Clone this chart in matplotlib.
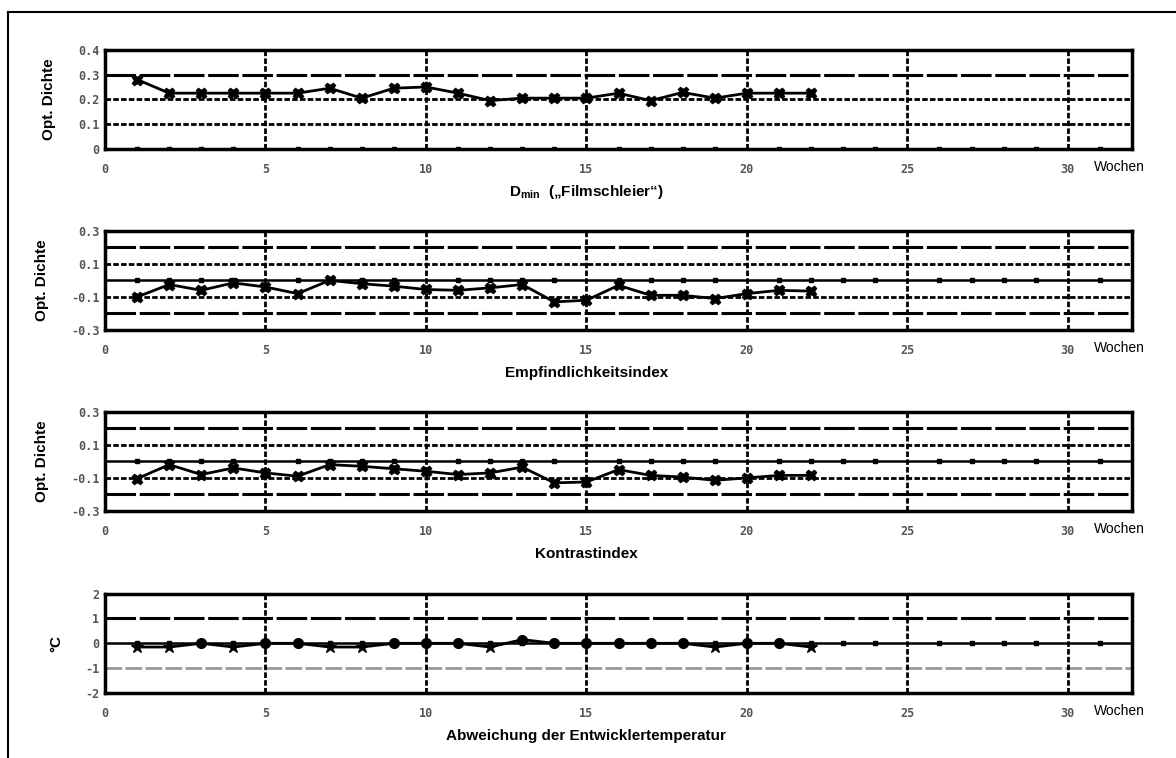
import matplotlib
matplotlib.use('Agg')
import matplotlib.pyplot as plt
from matplotlib.lines import Line2D

plt.rcParams['font.family'] = ['Liberation Sans', 'DejaVu Sans']
plt.rcParams['mathtext.fontset'] = 'custom'
plt.rcParams['mathtext.rm'] = 'Liberation Sans'
plt.rcParams['mathtext.bf'] = 'Liberation Sans:bold'

# data
weeks = list(range(1, 23))
dmin = [0.28, 0.225, 0.225, 0.225, 0.225, 0.225, 0.245, 0.205, 0.245, 0.25, 0.225,
        0.195, 0.205, 0.205, 0.205, 0.225, 0.195, 0.228, 0.205, 0.225, 0.225, 0.225]
speed = [-0.10, -0.025, -0.06, -0.015, -0.04, -0.08, 0.0, -0.02, -0.035, -0.055, -0.06,
         -0.045, -0.025, -0.13, -0.12, -0.03, -0.09, -0.09, -0.11, -0.08, -0.06, -0.065]
contrast = [-0.105, -0.02, -0.08, -0.04, -0.07, -0.09, -0.02, -0.03, -0.045, -0.06, -0.08,
            -0.07, -0.035, -0.13, -0.125, -0.05, -0.085, -0.095, -0.115, -0.10, -0.085, -0.085]
temp = [-0.15, -0.15, 0.0, -0.15, 0.0, 0.0, -0.15, -0.15, 0.0, 0.0, 0.0,
        -0.15, 0.15, 0.0, 0.0, 0.0, 0.0, 0.0, -0.15, 0.0, 0.0, -0.15]

xticks = [0, 5, 10, 15, 20, 25, 30]
small_ticks = [i for i in range(1, 32) if i % 5 != 0]

titles = [r'$\mathbf{D_{min}}$  („Filmschleier“)', 'Empfindlichkeitsindex',
          'Kontrastindex', 'Abweichung der Entwicklertemperatur']
ylabels = ['Opt. Dichte', 'Opt. Dichte', 'Opt. Dichte', '°C']
ylims = [(0, 0.4), (-0.3, 0.3), (-0.3, 0.3), (-2, 2)]
yticks = [[0, 0.1, 0.2, 0.3, 0.4], [-0.3, -0.1, 0.1, 0.3], [-0.3, -0.1, 0.1, 0.3], [-2, -1, 0, 1, 2]]
yticklabels = [['0', '0.1', '0.2', '0.3', '0.4'], ['-0.3', '-0.1', '0.1', '0.3'],
               ['-0.3', '-0.1', '0.1', '0.3'], ['-2', '-1', '0', '1', '2']]
# horizontal reference lines: (value, style)
hlines = [[(0.3, 'long'), (0.2, 'dot'), (0.1, 'dot')],
          [(0.2, 'long'), (0.1, 'dot'), (0.0, 'solid'), (-0.1, 'dot'), (-0.2, 'long')],
          [(0.2, 'long'), (0.1, 'dot'), (0.0, 'solid'), (-0.1, 'dot'), (-0.2, 'long')],
          [(1, 'long'), (0, 'solid'), (-1, 'gray')]]
series = [dmin, speed, contrast, temp]

fig = plt.figure(figsize=(11.76, 7.58), dpi=100)

# outer frame (left and top edge)
fig.add_artist(Line2D([8 / 1176, 8 / 1176], [0, 1 - 12 / 758], color='black', lw=1.5,
                      transform=fig.transFigure))
fig.add_artist(Line2D([8 / 1176, 1], [1 - 12 / 758, 1 - 12 / 758], color='black', lw=1.5,
                      transform=fig.transFigure))

panel_y = [0.8034, 0.5646, 0.3259, 0.0858]
tick_col = '#555555'

for k in range(4):
    ax = fig.add_axes([0.0893, panel_y[k], 0.8733, 0.131])
    ax.set_xlim(0, 32)
    ax.set_ylim(*ylims[k])

    for v, st in hlines[k]:
        if st == 'long':
            ax.axhline(v, color='black', lw=2.2, dashes=(10, 1.2), zorder=1)
        elif st == 'dot':
            ax.axhline(v, color='black', lw=2.0, dashes=(2, 0.8), zorder=1)
        elif st == 'solid':
            ax.axhline(v, color='black', lw=1.8, zorder=1)
        else:
            ax.axhline(v, color='#999999', lw=2.0, dashes=(6, 1.2), zorder=1)
    for x in xticks[1:]:
        ax.axvline(x, color='black', lw=2.0, dashes=(2, 0.8), zorder=1)

    # little week marks along the base line
    base = 0 if k > 0 else ylims[k][0]
    ax.plot(small_ticks, [base] * len(small_ticks), ls='none', marker='s', ms=3.5,
            color='black', zorder=2)

    y = series[k]
    if k < 3:
        ax.plot(weeks, y, color='black', lw=2, marker='X', ms=7.5, zorder=3)
    else:
        ax.plot(weeks, y, color='black', lw=2, zorder=3)
        for w, v in zip(weeks, y):
            ax.plot(w, v, color='black', marker='*' if v < 0 else 'o', ms=9 if v < 0 else 7,
                    zorder=3)

    for s in ax.spines.values():
        s.set_linewidth(2.5)
    ax.set_xticks(xticks)
    ax.set_xticklabels([str(t) for t in xticks])
    ax.set_yticks(yticks[k])
    ax.set_yticklabels(yticklabels[k])
    ax.tick_params(axis='both', length=0, pad=10, labelsize=8.5, labelcolor=tick_col)
    for lab in ax.get_xticklabels() + ax.get_yticklabels():
        lab.set_fontweight('bold')
        lab.set_family('DejaVu Sans Mono')
    ax.tick_params(axis='y', pad=4)
    ax.set_ylabel(ylabels[k], fontsize=11, fontweight='bold', labelpad=16)
    ax.annotate('Wochen', xy=(30.8, 0), xycoords=('data', 'axes fraction'),
                xytext=(0, -13), textcoords='offset points', fontsize=10,
                ha='left', va='center', annotation_clip=False)
    ax.annotate(titles[k], xy=(15, 0), xycoords=('data', 'axes fraction'),
                xytext=(0, -31), textcoords='offset points', ha='center', va='center',
                fontsize=11, fontweight='bold', annotation_clip=False)

fig.savefig('out.png', dpi=100)
